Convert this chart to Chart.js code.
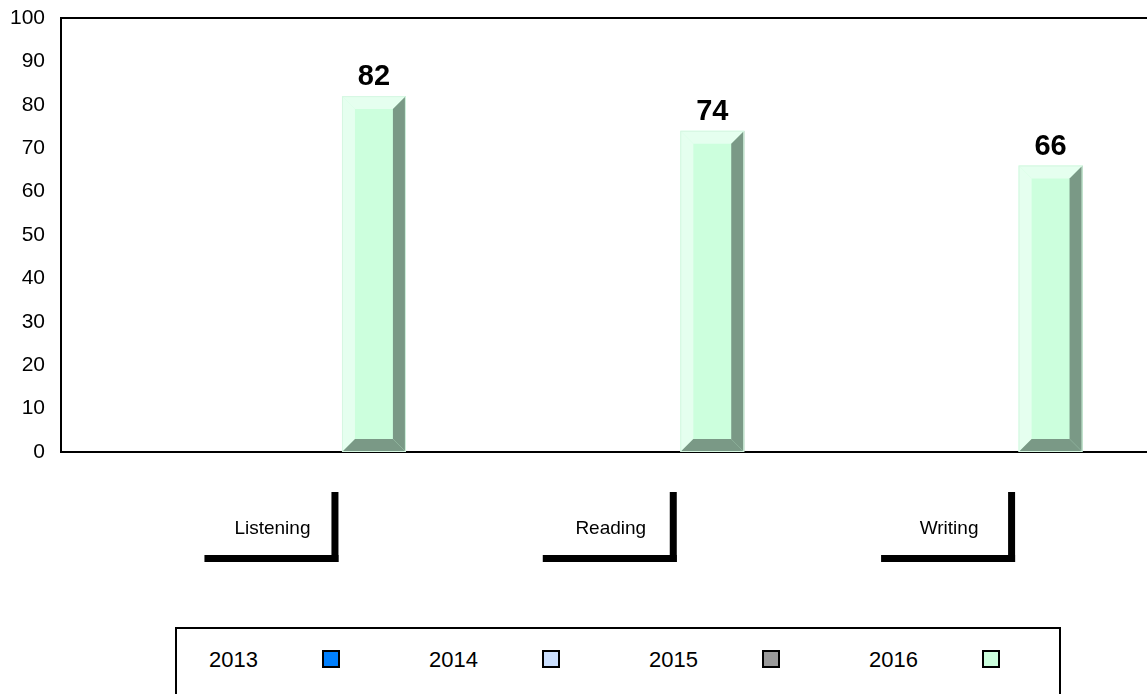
<!DOCTYPE html>
<html>
<head>
<meta charset="utf-8">
<title>Scores</title>
<script src="https://cdn.jsdelivr.net/npm/chart.js@4/dist/chart.umd.min.js"></script>
<style>
  body { margin: 0; background: #fff; }
  #wrap { position: relative; width: 1147px; height: 694px; overflow: hidden; }
  #legend {
    position: absolute; left: 175px; top: 627px; width: 886px; height: 120px;
    border: 2px solid #000; box-sizing: border-box; background: #fff;
    font-family: "Liberation Sans", Arial, sans-serif; font-size: 22px; color: #000;
  }
  #legend .txt { position: absolute; top: 17px; line-height: 28px; }
  #legend .box { position: absolute; top: 21px; width: 18px; height: 18px; border: 2px solid #000; box-sizing: border-box; }
</style>
</head>
<body>
<div id="wrap">
  <canvas id="showGraphScores"></canvas>
  <div id="legend"></div>
</div>
<script>
var categories = ['Listening', 'Reading', 'Writing'];
var years = ['2013', '2014', '2015', '2016'];
var scores2013 = [null, null, null];
var scores2014 = [null, null, null];
var scores2015 = [null, null, null];
var scores2016 = [82, 74, 66];
var yearColors = ['#0080ff', '#cce0ff', '#999999', '#ccffdd'];
var yMin = 0, yMax = 100, yStep = 10;

var fontFamily = '"Liberation Sans", Arial, sans-serif';
Chart.defaults.font.family = fontFamily;
Chart.defaults.color = '#000';

// bevelled front face, like the old office 3d bars
var bevelPlugin = {
  id: 'bevel',
  afterDatasetsDraw: function (chart) {
    var ctx = chart.ctx;
    var d = 13;
    function poly(pts, color) {
      ctx.beginPath();
      ctx.moveTo(pts[0][0], pts[0][1]);
      for (var k = 1; k < pts.length; k++) ctx.lineTo(pts[k][0], pts[k][1]);
      ctx.closePath();
      ctx.fillStyle = color;
      ctx.fill();
    }
    ctx.save();
    chart.data.datasets.forEach(function (ds, i) {
      var meta = chart.getDatasetMeta(i);
      meta.data.forEach(function (bar, j) {
        if (ds.data[j] == null) return;
        var p = bar.getProps(['x', 'y', 'base', 'width'], true);
        var x0 = p.x - p.width / 2, x1 = p.x + p.width / 2, t = p.y, b = p.base;
        poly([[x0, t], [x1, t], [x1 - d, t + d], [x0 + d, t + d]], '#e5ffef');
        poly([[x0, t], [x0 + d, t + d], [x0 + d, b - d], [x0, b]], '#e5ffef');
        poly([[x1, t], [x1, b], [x1 - d, b - d], [x1 - d, t + d]], '#7a9986');
        poly([[x0, b], [x1, b], [x1 - d, b - d], [x0 + d, b - d]], '#7a9986');
        ctx.strokeStyle = '#d6f7e2';
        ctx.lineWidth = 1;
        ctx.strokeRect(x0 + 0.5, t + 0.5, p.width - 1, b - t - 1);
      });
    });
    ctx.restore();
  }
};

// value above each bar
var valueLabels = {
  id: 'valueLabels',
  afterDatasetsDraw: function (chart) {
    var ctx = chart.ctx;
    ctx.save();
    ctx.font = 'bold 29px ' + fontFamily;
    ctx.fillStyle = '#000';
    ctx.textAlign = 'center';
    ctx.textBaseline = 'alphabetic';
    chart.data.datasets.forEach(function (ds, i) {
      chart.getDatasetMeta(i).data.forEach(function (bar, j) {
        if (ds.data[j] == null) return;
        ctx.fillText(ds.data[j], bar.x, bar.y - 11);
      });
    });
    ctx.restore();
  }
};

// top frame line and the L shaped marks under the category names
var frame = {
  id: 'frame',
  afterDraw: function (chart) {
    var ctx = chart.ctx;
    var area = chart.chartArea;
    var xs = chart.scales.x;
    ctx.save();
    ctx.strokeStyle = '#000';
    ctx.lineWidth = 2;
    ctx.beginPath();
    ctx.moveTo(area.left - 1, area.top);
    ctx.lineTo(area.right, area.top);
    ctx.stroke();
    ctx.fillStyle = '#000';
    for (var i = 0; i < categories.length; i++) {
      var c = xs.getPixelForTick(i);
      var l = c - 68, r = c + 66;
      var top = area.bottom + 40, bot = area.bottom + 110;
      ctx.fillRect(r - 7, top, 7, bot - top);
      ctx.fillRect(l, bot - 7, r - l, 7);
    }
    ctx.restore();
  }
};

var datasets = [scores2013, scores2014, scores2015, scores2016].map(function (vals, i) {
  return {
    label: years[i],
    data: vals,
    backgroundColor: yearColors[i],
    borderWidth: 0,
    categoryPercentage: 0.8,
    barPercentage: 0.945
  };
});

var config = {
  type: 'bar',
  data: { labels: categories, datasets: datasets },
  options: {
    responsive: true,
    maintainAspectRatio: false,
    animation: false,
    layout: { padding: { top: 18, left: 0, right: 0, bottom: 0 } },
    plugins: {
      legend: { display: false },
      tooltip: { enabled: false }
    },
    scales: {
      x: {
        grid: { display: false, drawTicks: false },
        border: { display: true, color: '#000', width: 2 },
        ticks: { font: { size: 19 }, padding: 65, color: '#000' },
        afterBuildTicks: function (scale) {
          // groups sit a bit tighter than the full plot width
          scale._startValue = -0.625;
          scale._valueRange = 3.21;
        },
        afterFit: function (scale) { scale.height = 242; }
      },
      y: {
        min: yMin,
        max: yMax,
        grid: { display: false, drawTicks: true, tickLength: 13 },
        border: { display: true, color: '#000', width: 2 },
        ticks: { stepSize: yStep, font: { size: 21 }, padding: 3, color: '#000' },
        afterFit: function (scale) { scale.width = 61; }
      }
    }
  },
  plugins: [bevelPlugin, valueLabels, frame]
};

var myChartScores = new Chart(document.querySelector('#showGraphScores').getContext('2d'), config);

// legend: year name followed by its swatch
var legendEl = document.querySelector('#legend');
myChartScores.data.datasets.forEach(function (ds, i) {
  var txt = document.createElement('span');
  txt.className = 'txt';
  txt.style.left = (32 + 220 * i) + 'px';
  txt.textContent = ds.label;
  var box = document.createElement('span');
  box.className = 'box';
  box.style.left = (145 + 220 * i) + 'px';
  box.style.background = ds.backgroundColor;
  legendEl.appendChild(txt);
  legendEl.appendChild(box);
});
</script>
</body>
</html>
